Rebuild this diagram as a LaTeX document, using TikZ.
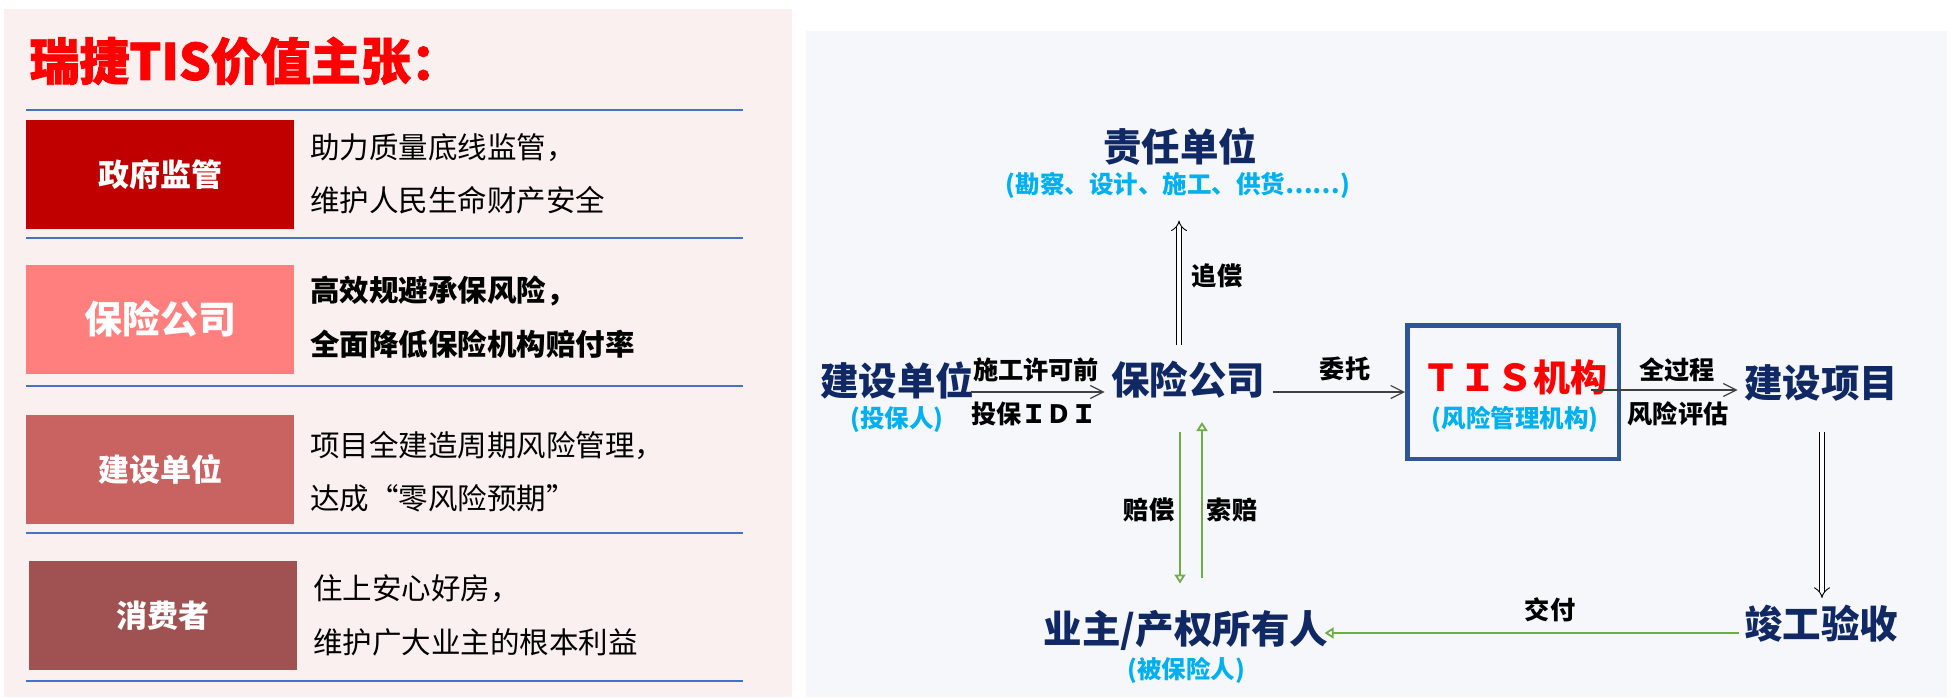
\documentclass[tikz,border=0pt]{standalone}
\usepackage{fontspec}
\setmainfont{Noto Sans CJK SC}
\newfontfamily\titlefont{Noto Sans CJK SC}[BoldFeatures={FakeBold=1.6}]
\usetikzlibrary{arrows.meta,calc}
\definecolor{navy}{RGB}{16,40,100}
\definecolor{cyantxt}{RGB}{0,176,240}
\definecolor{grn}{RGB}{112,173,71}
\definecolor{boxblue}{RGB}{47,85,151}
\definecolor{pinkbg}{RGB}{250,240,240}
\definecolor{graybg}{RGB}{245,247,250}
\definecolor{linblue}{RGB}{68,114,196}
\definecolor{cA}{RGB}{192,0,0}
\definecolor{cB}{RGB}{255,127,127}
\definecolor{cC}{RGB}{201,99,98}
\definecolor{cD}{RGB}{160,82,82}
\tikzset{
  big/.style={font=\fontsize{19.25}{22}\selectfont\bfseries, text=navy, inner sep=0pt},
  subt/.style={font=\fontsize{12.25}{14}\selectfont\bfseries, text=cyantxt, inner sep=0pt},
  lbl/.style={font=\fontsize{12.6}{14}\selectfont\bfseries, text=black, inner sep=0pt},
  para/.style={font=\fontsize{14.75}{17}\selectfont, text=black, anchor=west, inner sep=0pt},
  parab/.style={para, font=\fontsize{14.75}{17}\selectfont\bfseries},
  vbox/.style={minimum width=134pt, minimum height=54.5pt, inner sep=0pt, text=white,
     font=\fontsize{15.5}{18}\selectfont\bfseries},
  sepline/.style={draw=linblue, line width=0.6pt},
  thinarr/.style={draw=black!75, line width=0.6pt, -{Straight Barb[length=6.5pt,width=6.5pt]}},
  hollow/.style={draw=black, double=white, double distance=2.4pt, line width=0.45pt, -{Implies}},
  grnarr/.style={draw=grn, line width=0.9pt, -{Triangle[open, length=4.5pt, width=5.5pt]}},
}
\begin{document}
\begin{tikzpicture}[x=0.5pt,y=-0.5pt]
\useasboundingbox (0,0) rectangle (1951,697);
\fill[white] (0,0) rectangle (1951,697);
% left panel
\fill[pinkbg] (4,9) rectangle (792,697);
\node[anchor=west, inner sep=0pt, text=red, font=\fontsize{25}{30}\titlefont\bfseries] (title) at (29,61) {瑞捷TIS价值主张：};
\foreach \yy in {110,238,386,533,681} \draw[sepline] (26,\yy) -- (743,\yy);
\node[vbox, fill=cA] (b1) at (160,174.5) {政府监管};
\node[vbox, fill=cB, font=\fontsize{19}{22}\selectfont\bfseries] (b2) at (160,319) {保险公司};
\node[vbox, fill=cC] (b3) at (160,469.5) {建设单位};
\node[vbox, fill=cD] (b4) at (163,615.5) {消费者};
\node[para] (t1a) at (310,148) {助力质量底线监管，};
\node[para] (t1b) at (310,200) {维护人民生命财产安全};
\node[parab] (t2a) at (310,291) {高效规避承保风险，};
\node[parab] (t2b) at (310,344) {全面降低保险机构赔付率};
\node[para] (t3a) at (310,446) {项目全建造周期风险管理，};
\node[para] (t3b) at (310,498) {达成“零风险预期”};
\node[para] (t4a) at (313,589) {住上安心好房，};
\node[para] (t4b) at (313,642) {维护广大业主的根本利益};
% right panel
\fill[graybg] (806,31) rectangle (1947,697);
\node[big] (zr) at (1180,147) {责任单位};
\node[subt] (zrs) at (1178,185) {(勘察、设计、施工、供货……)};
\node[big] (js) at (897,380) {建设单位};
\node[subt] (jss) at (897,420) {(投保人)};
\node[big] (bx) at (1188,380) {保险公司};
\node[draw=boxblue, line width=2.25pt, minimum width=105.75pt, minimum height=66.75pt, inner sep=0pt] (tis) at (1513,392) {};
\node[inner sep=0pt, text=red, font=\fontsize{18.5}{22}\selectfont\bfseries] (tist) at (1515,377) {ＴＩＳ机构};
\node[subt] (tiss) at (1515,419) {(风险管理机构)};
\node[big] (xm) at (1821,383) {建设项目};
\node[big] (jg) at (1821,624) {竣工验收};
\node[big] (yz) at (1186,630) {业主/产权所有人};
\node[subt] (yzs) at (1186,670) {(被保险人)};
% labels
\node[lbl] (l1) at (1036,370) {施工许可前};
\node[lbl] (l2) at (1034,414) {投保ＩＤＩ};
\node[lbl] (l3) at (1345,369) {委托};
\node[lbl] (l4) at (1677,370) {全过程};
\node[lbl] (l5) at (1678,414) {风险评估};
\node[lbl] (l6) at (1217,276) {追偿};
\node[lbl] (l7) at (1149,510) {赔偿};
\node[lbl] (l8) at (1232,510) {索赔};
\node[lbl] (l9) at (1550,610) {交付};
% connectors
\draw[thinarr] ($(js.east)+(-3,12)$) -- ($(bx.west)+(-6,12)$);
\draw[thinarr] ($(bx.east)+(8,12)$) -- (tis.west);
\draw[thinarr] ($(tis.east)+(-30,-2)$) -- ($(xm.west)+(-6,7)$);
\draw[hollow] ($(bx.north)+(-9,-16)$) -- ($(zrs.south)+(1,22)$);
\draw[hollow] ($(xm.south)+(1,30)$) -- ($(jg.north)+(1,-7)$);
\draw[grnarr] ($(bx.south)+(-8,33)$) -- ($(yz.north)+(-6,-26)$);
\draw[grnarr] ($(yz.north)+(16,-32)$) -- ($(bx.south)+(14,23)$);
\draw[grnarr] ($(jg.west)+(-5,9)$) -- ($(yz.east)+(-4,3)$);
\end{tikzpicture}
\end{document}
